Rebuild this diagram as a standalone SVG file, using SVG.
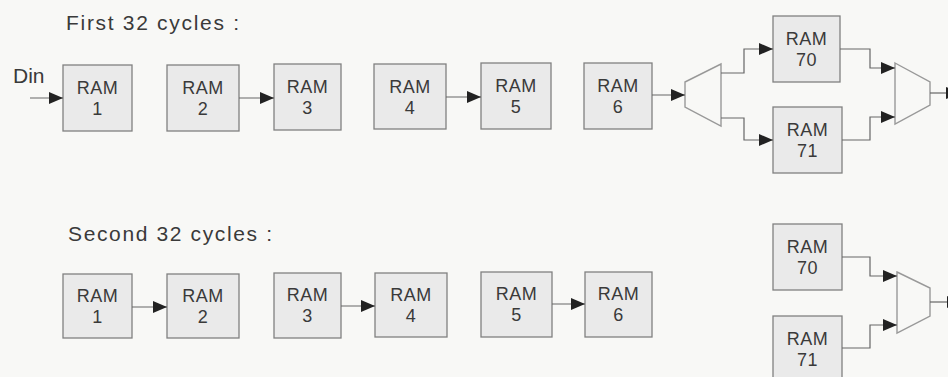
<svg xmlns="http://www.w3.org/2000/svg" width="948" height="377" viewBox="0 0 948 377">
<style>
.bg{fill:#f8f8f6}
.box rect{fill:#eaeaea;stroke:#808080;stroke-width:1.3}
.box text{font-family:"Liberation Sans",Arial,sans-serif;font-size:18px;fill:#3a3a3a;text-anchor:middle;letter-spacing:0.5px}
.lbl{font-family:"Liberation Sans",Arial,sans-serif;font-size:21px;fill:#3a3a3a}
.con path{fill:none;stroke:#666;stroke-width:1.2}
.arr{marker-end:url(#ah)}
.mux{fill:#f8f8f6;stroke:#999;stroke-width:1.4}
</style>
<defs>
<marker id="ah" markerUnits="userSpaceOnUse" markerWidth="15" markerHeight="13" refX="14" refY="6" orient="auto">
<path d="M0,0 L14,6 L0,12 z" fill="#222"/>
</marker>
</defs>
<rect class="bg" x="0" y="0" width="948" height="377"/>

<text class="lbl" x="66" y="30" textLength="173" lengthAdjust="spacing">First 32 cycles :</text>
<text class="lbl" x="13" y="83">Din</text>
<text class="lbl" x="68" y="241" textLength="204" lengthAdjust="spacing">Second 32 cycles :</text>

<g id="r1-ram1" class="box"><rect x="63" y="65" width="69" height="66"/><text x="97.5" y="94">RAM</text><text x="97.5" y="115">1</text></g>
<g id="r1-ram2" class="box"><rect x="167" y="65" width="72" height="66"/><text x="203" y="94">RAM</text><text x="203" y="115">2</text></g>
<g id="r1-ram3" class="box"><rect x="274" y="64" width="67" height="66"/><text x="307.5" y="93">RAM</text><text x="307.5" y="114">3</text></g>
<g id="r1-ram4" class="box"><rect x="374" y="64" width="72" height="65"/><text x="410" y="93">RAM</text><text x="410" y="114">4</text></g>
<g id="r1-ram5" class="box"><rect x="481" y="63" width="70" height="66"/><text x="516" y="92">RAM</text><text x="516" y="113">5</text></g>
<g id="r1-ram6" class="box"><rect x="584" y="63" width="68" height="66"/><text x="618" y="92">RAM</text><text x="618" y="113">6</text></g>
<g id="r1-ram70" class="box"><rect x="773" y="16" width="67" height="66"/><text x="806.5" y="45">RAM</text><text x="806.5" y="66">70</text></g>
<g id="r1-ram71" class="box"><rect x="773" y="107" width="69" height="66"/><text x="807.5" y="136">RAM</text><text x="807.5" y="157">71</text></g>
<g id="r1-demux"><polygon class="mux" points="685,82 721,64 721,126 685,107"/></g>
<g id="r1-mux"><polygon class="mux" points="895,63 930,82 930,105 895,124"/></g>

<g id="r2-ram1" class="box"><rect x="63" y="274" width="69" height="64"/><text x="97.5" y="302">RAM</text><text x="97.5" y="323">1</text></g>
<g id="r2-ram2" class="box"><rect x="167" y="274" width="72" height="64"/><text x="203" y="302">RAM</text><text x="203" y="323">2</text></g>
<g id="r2-ram3" class="box"><rect x="274" y="273" width="67" height="65"/><text x="307.5" y="301">RAM</text><text x="307.5" y="322">3</text></g>
<g id="r2-ram4" class="box"><rect x="375" y="273" width="72" height="64"/><text x="411" y="301">RAM</text><text x="411" y="322">4</text></g>
<g id="r2-ram5" class="box"><rect x="481" y="272" width="71" height="65"/><text x="516.5" y="300">RAM</text><text x="516.5" y="321">5</text></g>
<g id="r2-ram6" class="box"><rect x="585" y="272" width="67" height="65"/><text x="618.5" y="300">RAM</text><text x="618.5" y="321">6</text></g>
<g id="r2-ram70" class="box"><rect x="773" y="224" width="69" height="66"/><text x="807.5" y="253">RAM</text><text x="807.5" y="274">70</text></g>
<g id="r2-ram71" class="box"><rect x="773" y="316" width="69" height="70"/><text x="807.5" y="345">RAM</text><text x="807.5" y="366">71</text></g>
<g id="r2-mux"><polygon class="mux" points="897,272 930,288 930,316 897,333"/></g>

<g id="connectors" class="con">
<path class="arr" d="M30,98 H63"/>
<path class="arr" d="M239,98 H274"/>
<path class="arr" d="M446,97 H481"/>
<path class="arr" d="M652,95 H685"/>
<path class="arr" d="M721,73 H744 V49 H773"/>
<path class="arr" d="M721,118 H744 V140 H773"/>
<path class="arr" d="M840,49 H870 V68 H895"/>
<path class="arr" d="M842,140 H870 V117 H895"/>
<path class="arr" d="M930,93 H960"/>
<path class="arr" d="M132,307 H167"/>
<path class="arr" d="M341,306 H375"/>
<path class="arr" d="M552,304 H585"/>
<path class="arr" d="M842,257 H870 V276 H897"/>
<path class="arr" d="M842,348 H870 V325 H897"/>
<path class="arr" d="M930,302 H961"/>
</g>
</svg>
